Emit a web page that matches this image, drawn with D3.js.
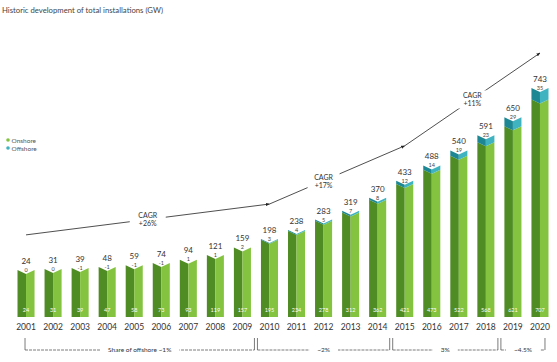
<!DOCTYPE html>
<html>
<head>
<meta charset="utf-8">
<script src="https://cdn.jsdelivr.net/npm/d3@7"></script>
<style>
  html, body { margin: 0; padding: 0; background: #fff; }
  svg { display: block; font-family: Lato, "Open Sans", sans-serif; }
</style>
</head>
<body>
<svg id="chart" width="557" height="362"></svg>
<script>
const years = ["2001","2002","2003","2004","2005","2006","2007","2008","2009","2010",
               "2011","2012","2013","2014","2015","2016","2017","2018","2019","2020"];
const onshore = [24,31,39,47,58,73,93,119,157,195,234,278,312,362,421,473,522,568,621,707];
const offshore = [0,0,-1,-1,-1,-1,1,1,2,3,4,5,7,8,12,14,19,23,29,35];
const totals = [24,31,39,48,59,74,94,121,159,198,238,283,319,370,433,488,540,591,650,743];
const cagrFrom = ["2001","2010","2015"];
const cagrTo = ["2010","2015","2020"];
const cagrLabels = ["+26%","+17%","+11%"];
const shareLabels = ["Share of offshore ~1%","~2%","3%","~4.5%"];
const shareFrom = ["2001","2010","2015","2019"];
const shareTo = ["2009","2014","2018","2020"];
const title = "Historic development of total installations (GW)";
const legendLabels = ["Onshore","Offshore"];

const svg = d3.select("#chart");
const baseY = 317;

const x = d3.scaleBand().domain(years).range([12.5, 553.5]).paddingInner(0.37).paddingOuter(0.185);
const bw = x.bandwidth();
const cx = d => x(d) + bw / 2;
const y = d3.scalePow().exponent(1.3).domain([0, d3.max(totals)]).range([baseY - 45, 88]);
const notch = 4;

const C = {
  gDark: "#4f8c24", gLight: "#84c340",
  tDark: "#1d8894", tLight: "#3fb3bf",
  text: "#333"
};

// title
svg.append("text").attr("x", 2).attr("y", 13).attr("font-size", 8.2).attr("fill", "#444")
  .attr("textLength", 161).attr("lengthAdjust", "spacingAndGlyphs").text(title);

// legend
const legColors = [C.gLight, C.tLight];
legendLabels.forEach((l, i) => {
  svg.append("circle").attr("cx", 8).attr("cy", 140 + i * 8).attr("r", 1.8).attr("fill", legColors[i]);
  svg.append("text").attr("x", 11.5).attr("y", 142.5 + i * 8).attr("font-size", 6.5).attr("fill", "#555").text(l);
});

function halfPaths(xs, yt, yb, topNotch, botNotch) {
  const x0 = xs, xm = xs + bw / 2, x1 = xs + bw;
  const left = `M${x0},${yt} L${xm},${yt + topNotch} L${xm},${yb + botNotch} L${x0},${yb} Z`;
  const right = `M${xm},${yt + topNotch} L${x1},${yt} L${x1},${yb} L${xm},${yb + botNotch} Z`;
  return [left, right];
}

const data = years.map((yr, i) => ({ yr, on: onshore[i], off: offshore[i], tot: totals[i] }));
const g = svg.append("g");
data.forEach(d => {
  const xs = x(d.yr);
  const yTop = y(d.tot);
  const yOn = Math.max(y(d.on), yTop);
  const [l, r] = halfPaths(xs, yOn, baseY, notch, 0);
  g.append("path").attr("d", l).attr("fill", C.gDark);
  g.append("path").attr("d", r).attr("fill", C.gLight);
  if (yOn - yTop > 0.5) {
    const [lo, ro] = halfPaths(xs, yTop, yOn, notch, notch);
    g.append("path").attr("d", lo).attr("fill", C.tDark);
    g.append("path").attr("d", ro).attr("fill", C.tLight);
  }
  g.append("text").attr("x", cx(d.yr)).attr("y", yTop - 6).attr("text-anchor", "middle")
    .attr("font-size", 8).attr("fill", C.text).text(d.tot);
  g.append("text").attr("x", cx(d.yr)).attr("y", yTop + 2).attr("text-anchor", "middle")
    .attr("font-size", 5.5).attr("fill", "#444").text(d.off);
  g.append("text").attr("x", cx(d.yr)).attr("y", baseY - 5).attr("text-anchor", "middle")
    .attr("font-size", 5.5).attr("fill", "#fff").text(d.on);
});

// x axis labels
const xAxis = d3.axisBottom(x).tickSize(0).tickPadding(0);
const ax = svg.append("g").attr("transform", `translate(0,${baseY + 6.5})`).call(xAxis);
ax.select(".domain").remove();
ax.selectAll("text").attr("font-size", 8.5).attr("fill", "#333").attr("font-family", "Lato, sans-serif");

// CAGR arrows
const defs = svg.append("defs");
defs.append("marker").attr("id", "arr").attr("viewBox", "0 0 10 10").attr("refX", 9).attr("refY", 5)
  .attr("markerWidth", 5).attr("markerHeight", 5).attr("orient", "auto")
  .append("path").attr("d", "M0,1 L10,5 L0,9 Z").attr("fill", "#222");

const off = 35;
const fracs = [0.5, 0.4, 0.5];
const gapW = [36, 32, 40];
const totByYear = Object.fromEntries(years.map((yr, i) => [yr, totals[i]]));
cagrFrom.forEach((f, i) => {
  const t = cagrTo[i];
  const x0 = cx(f), y0 = y(totByYear[f]) - off;
  const x1 = cx(t), y1 = y(totByYear[t]) - off;
  svg.append("line").attr("x1", x0).attr("y1", y0).attr("x2", x1).attr("y2", y1)
    .attr("stroke", "#222").attr("stroke-width", 0.8).attr("marker-end", "url(#arr)");
  const tx = x0 + (x1 - x0) * fracs[i], ty = y0 + (y1 - y0) * fracs[i];
  svg.append("rect").attr("x", tx - gapW[i] / 2).attr("y", ty - 9).attr("width", gapW[i]).attr("height", 18).attr("fill", "#fff");
  svg.append("text").attr("x", tx).attr("y", ty - 1).attr("text-anchor", "middle").attr("font-size", 7).attr("fill", "#333").text("CAGR");
  svg.append("text").attr("x", tx).attr("y", ty + 7).attr("text-anchor", "middle").attr("font-size", 7).attr("fill", "#333").text(cagrLabels[i]);
});

// share brackets
const by = 350, tickTop = 338;
const step = x.step();
shareFrom.forEach((f, i) => {
  const t = shareTo[i];
  const left = i === 0 ? cx(f) - 1 : cx(f) - step / 2 + 1.5;
  const right = i === shareFrom.length - 1 ? cx(t) + 5 : cx(t) + step / 2 - 1.5;
  const mid = (left + right) / 2;
  const b = svg.append("g");
  const st = "#444";
  b.append("line").attr("x1", left).attr("x2", left).attr("y1", tickTop).attr("y2", by).attr("stroke", st).attr("stroke-width", 0.7);
  b.append("line").attr("x1", right).attr("x2", right).attr("y1", tickTop).attr("y2", by).attr("stroke", st).attr("stroke-width", 0.7);
  b.append("line").attr("x1", left).attr("x2", right).attr("y1", by).attr("y2", by).attr("stroke", st).attr("stroke-width", 0.7)
    .attr("stroke-dasharray", "3,1");
  const txt = b.append("text").attr("x", mid).attr("y", by + 2.3).attr("text-anchor", "middle")
    .attr("font-size", 6.5).attr("fill", "#333").text(shareLabels[i]);
  const w = txt.node().getComputedTextLength();
  b.insert("rect", "text").attr("x", mid - w / 2 - 8).attr("y", by - 4).attr("width", w + 16).attr("height", 8).attr("fill", "#fff");
});
</script>
</body>
</html>
